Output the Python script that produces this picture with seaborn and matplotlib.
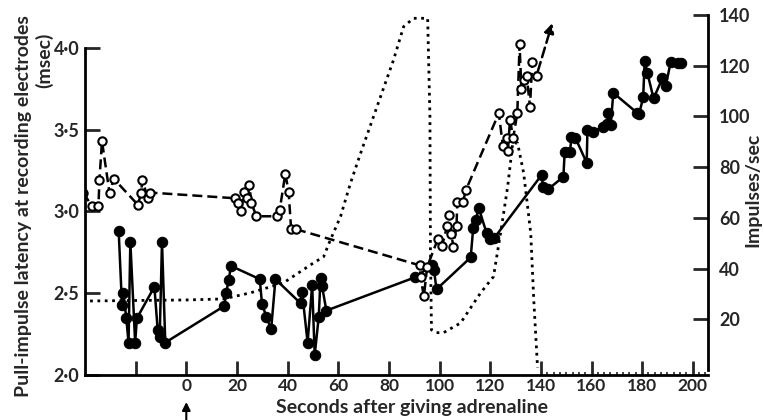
import matplotlib
matplotlib.use("Agg")
import matplotlib.pyplot as plt
import numpy as np
import seaborn as sns

# open circles: pull-impulse latency (msec), left axis
latency_t = [-40.6, -37.3, -34.7, -34.3, -33.3, -30.3, -28.7, -19.1, -17.8, -17.4, -15.1, -14.5,
             19.4, 20.3, 21.7, 22.7, 24.0, 24.9, 25.7, 27.7, 35.8, 36.9, 39.1, 40.4, 41.4, 43.5,
             92.2, 92.5, 93.8, 95.1, 99.3, 101.0, 103.0, 103.7, 104.7, 105.4, 106.7, 107.0, 109.3,
             110.4, 123.4, 125.0, 126.5, 127.0, 127.8, 129.1, 130.7, 131.6, 132.3, 133.3, 134.4,
             135.7, 136.6, 138.3]
latency_ms = [3.115, 3.03, 3.03, 3.19, 3.43, 3.11, 3.20, 3.04, 3.115, 3.19, 3.08, 3.115,
              3.08, 3.05, 3.00, 3.12, 3.08, 3.16, 3.05, 2.97, 2.97, 3.01, 3.23, 3.12, 2.89, 2.89,
              2.67, 2.60, 2.48, 2.66, 2.83, 2.79, 2.91, 2.98, 2.86, 2.785, 2.91, 3.06, 3.06,
              3.13, 3.60, 3.40, 3.45, 3.37, 3.56, 3.45, 3.60, 4.02, 3.75, 3.80, 3.83,
              3.64, 3.91, 3.83]

# filled circles: impulses/sec, right axis
rate_t = [-26.7, -25.4, -24.8, -23.7, -22.8, -22.1, -20.2, -19.5, -12.6, -11.3, -10.5, -9.6, -8.3,
          15.0, 15.8, 16.7, 17.7, 29.0, 29.9, 31.6, 33.5, 35.2, 45.1, 45.7, 47.9, 49.7, 50.7,
          52.3, 53.0, 53.6, 55.3, 90.5, 97.1, 97.8, 98.8, 112.3, 113.3, 114.2, 115.5, 118.6,
          119.9, 121.5, 140.3, 140.9, 142.8, 148.9, 149.4, 151.5, 152.1, 153.6, 158.1, 158.4,
          160.4, 164.7, 166.3, 166.7, 167.6, 168.6, 177.9, 178.8, 180.4, 181.0, 182.1, 184.5,
          188.0, 189.3, 191.3, 194.0, 195.3]
rate = [54.8, 25.6, 30.2, 20.4, 10.8, 50.6, 10.8, 20.4, 32.8, 15.8, 13.1, 50.6, 10.8,
        25.2, 30.5, 35.5, 41.0, 35.8, 26.0, 21.0, 16.0, 35.8, 26.3, 30.9, 10.8, 33.5, 5.9,
        21.0, 36.2, 33.1, 23.4, 36.6, 41.4, 39.4, 31.8, 44.4, 56.1, 59.1, 63.8, 53.9,
        51.5, 51.9, 76.9, 72.0, 71.2, 76.2, 85.8, 86.1, 91.7, 91.6, 81.7, 94.6,
        94.0, 95.9, 97.0, 101.5, 96.6, 109.3, 101.5, 100.9, 107.5, 122.0, 117.0, 107.1,
        115.0, 112.0, 121.6, 120.9, 120.9]

# dotted trace, right axis
dot_t = [-38.0, 0.0, 14.6, 25.3, 38.3, 50.2, 54.2, 56.9, 60.9, 64.8, 68.8, 76.7, 81.8, 85.8,
         89.7, 95.3, 96.2, 96.4, 96.8, 98.8, 101.6, 105.6, 108.3, 116.2, 121.3, 124.1, 126.9,
         128.9, 130.8, 133.2, 136.0, 137.2, 138.7]
dot_v = [27.2, 27.6, 28.0, 30.4, 34.3, 42.2, 44.6, 51.3, 60.5, 73.6, 85.4, 107.8, 122.2, 135.4,
         138.7, 138.7, 100.0, 47.3, 15.8, 14.7, 14.7, 17.0, 18.5, 30.4, 36.8, 54.0, 72.3,
         89.5, 89.5, 77.7, 54.0, 27.6, 0.8]

x_ticks = [-20, 0, 20, 40, 60, 80, 100, 120, 140, 160, 180, 200]
x_labels = ["", "0", "20", "40", "60", "80", "100", "120", "140", "160", "180", "200"]
left_ticks = [2.0, 2.5, 3.0, 3.5, 4.0]
left_labels = ["2·0", "2·5", "3·0", "3·5", "4·0"]
right_ticks = [20, 40, 60, 80, 100, 120, 140]

sns.set_style("white")
plt.rcParams['font.family'] = ['Lato', 'DejaVu Sans']
plt.rcParams['font.weight'] = 'bold'

W, H = 764, 420
fig = plt.figure(figsize=(W / 100, H / 100), dpi=100)
ax = fig.add_axes([85 / W, 45 / H, 623 / W, 360 / H])
ax2 = ax.twinx()

# dotted trace and filled circles on the impulses/sec scale
sns.lineplot(x=dot_t, y=dot_v, ax=ax2, sort=False, estimator=None, color="black",
             linestyle=":", linewidth=2.0)
sns.lineplot(x=rate_t, y=rate, ax=ax2, sort=False, estimator=None, color="black",
             linewidth=1.8, marker="o", markersize=7.5, markeredgecolor="black")

# open circles on the latency scale
sns.lineplot(x=latency_t, y=latency_ms, ax=ax, sort=False, estimator=None, color="black",
             linewidth=1.8, dashes=False, marker="o", markersize=6,
             markerfacecolor="white", markeredgecolor="black", markeredgewidth=1.5)
ax.lines[-1].set_dashes((4, 2))
ax.set_zorder(ax2.get_zorder() + 1)
ax.patch.set_visible(False)

# dashed arrow off the top of the latency trace
ax.annotate("", xy=(144.5, 4.15), xytext=(latency_t[-1], latency_ms[-1]),
            arrowprops=dict(arrowstyle="-|>", color="black", lw=1.8, linestyle=(0, (4, 2)),
                            mutation_scale=14, shrinkA=3, shrinkB=0))

ax.set_xlim(-40, 206)
ax.set_ylim(2.0, 4.2)
ax2.set_ylim(-2, 140)

ax.set_xticks(x_ticks)
ax.set_xticklabels(x_labels)
ax.set_xticks(np.arange(140, 206, 2.5), minor=True)
ax.set_yticks(left_ticks)
ax.set_yticklabels(left_labels)
ax2.set_yticks(right_ticks)

for s in ["top"]:
    ax.spines[s].set_visible(False)
    ax2.spines[s].set_visible(False)
ax.spines["right"].set_visible(False)
ax2.spines["left"].set_visible(False)
ax2.spines["bottom"].set_visible(False)
ax.spines["left"].set_bounds(2.0, 4.0)
ax2.spines["right"].set_bounds(0, 140)
for sp in [ax.spines["left"], ax.spines["bottom"], ax2.spines["right"]]:
    sp.set_linewidth(2.0)
    sp.set_color("black")

ax.tick_params(axis="x", which="major", direction="in", length=10, width=2, pad=2,
               labelsize=12.5, bottom=True)
ax.tick_params(axis="x", which="minor", direction="in", length=2.5, width=1.2, bottom=True)
ax.tick_params(axis="y", direction="in", length=11, width=2, pad=4, labelsize=13, left=True)
ax2.tick_params(axis="y", direction="in", length=11, width=2, pad=8, labelsize=13, right=True)
for lab in ax.get_xticklabels() + ax.get_yticklabels() + ax2.get_yticklabels():
    lab.set_fontweight("bold")

ax.set_xlabel("")
ax.set_ylabel("")
ax2.set_ylabel("")
fig.text(0.5 * (270 + 555) / W, 1 - 407 / H, "Seconds after giving adrenaline",
         ha="center", va="center", fontsize=14, fontweight="bold")
fig.text(24 / W, 1 - 206 / H, "Pull-impulse latency at recording electrodes",
         rotation=90, ha="center", va="center", fontsize=14, fontweight="bold")
fig.text(44 / W, 1 - 60 / H, "(msec)", rotation=90, ha="center", va="center",
         fontsize=14, fontweight="bold")
fig.text(753 / W, 1 - 190 / H, "Impulses/sec", rotation=90, ha="center", va="center",
         fontsize=14, fontweight="bold")

# arrow marking the injection time
ax.annotate("", xy=(0, -0.075), xycoords=("data", "axes fraction"),
            xytext=(0, -0.125), textcoords=("data", "axes fraction"),
            arrowprops=dict(arrowstyle="-|>", color="black", lw=1.5, mutation_scale=12,
                            shrinkA=0, shrinkB=0), annotation_clip=False)

fig.savefig("out.png", dpi=100)
